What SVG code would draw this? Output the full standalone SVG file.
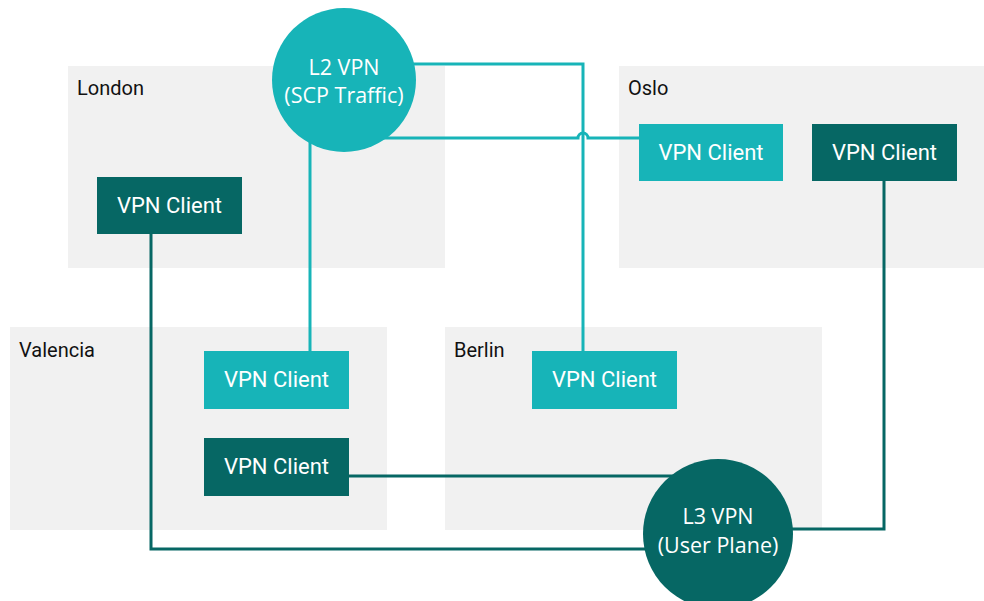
<svg xmlns="http://www.w3.org/2000/svg" width="984" height="601" viewBox="0 0 984 601">
<style>
.region{fill:#f1f1f1}
.rlabel{font-family:Roboto,"Liberation Sans",sans-serif;font-size:20px;fill:#111}
.light{fill:#17b4b8}
.dark{fill:#066764}
.ctext{font-family:Roboto,"Liberation Sans",sans-serif;font-size:22px;fill:#fff;text-anchor:middle}
.vtext{font-family:"Open Sans","Noto Sans",sans-serif;font-size:21.5px;fill:#fff;text-anchor:middle}
.l2{stroke:#17b4b8;stroke-width:3;fill:none}
.l3{stroke:#066764;stroke-width:3;fill:none}
</style>
<rect width="984" height="601" fill="#fff"/>
<g id="london"><rect class="region" x="68" y="66" width="377" height="202"/><text class="rlabel" x="77" y="95">London</text></g>
<g id="oslo"><rect class="region" x="619" y="66" width="365" height="202"/><text class="rlabel" x="628" y="95">Oslo</text></g>
<g id="valencia"><rect class="region" x="10" y="327" width="377" height="203"/><text class="rlabel" x="19" y="357">Valencia</text></g>
<g id="berlin"><rect class="region" x="445" y="327" width="377" height="203"/><text class="rlabel" x="454" y="357">Berlin</text></g>
<g id="connectors">
<path class="l2" d="M400,64 H583 V351"/>
<path class="l2" d="M380,138 H578 A5,5 0 0 1 588,138 H639"/>
<path class="l2" d="M310,140 V351"/>
<path class="l3" d="M151,234 V549 H660"/>
<path class="l3" d="M349,476 H680"/>
<path class="l3" d="M884,181 V529 H780"/>
</g>
<g id="l2vpn"><circle class="light" cx="344" cy="80" r="72"/><text class="vtext" x="344" y="75">L2 VPN</text><text class="vtext" x="344" y="103">(SCP Traffic)</text></g>
<g id="l3vpn"><circle class="dark" cx="718" cy="534" r="75"/><text class="vtext" x="718" y="524">L3 VPN</text><text class="vtext" x="718" y="553">(User Plane)</text></g>
<g id="london-client"><rect class="dark" x="97" y="177" width="145" height="57"/><text class="ctext" x="169.5" y="213">VPN Client</text></g>
<g id="oslo-client-l2"><rect class="light" x="639" y="124" width="144" height="57"/><text class="ctext" x="711" y="160">VPN Client</text></g>
<g id="oslo-client-l3"><rect class="dark" x="812" y="124" width="145" height="57"/><text class="ctext" x="884.5" y="160">VPN Client</text></g>
<g id="valencia-client-l2"><rect class="light" x="204" y="351" width="145" height="58"/><text class="ctext" x="276.5" y="387">VPN Client</text></g>
<g id="valencia-client-l3"><rect class="dark" x="204" y="438" width="145" height="58"/><text class="ctext" x="276.5" y="474">VPN Client</text></g>
<g id="berlin-client"><rect class="light" x="532" y="351" width="145" height="58"/><text class="ctext" x="604.5" y="387">VPN Client</text></g>
</svg>
